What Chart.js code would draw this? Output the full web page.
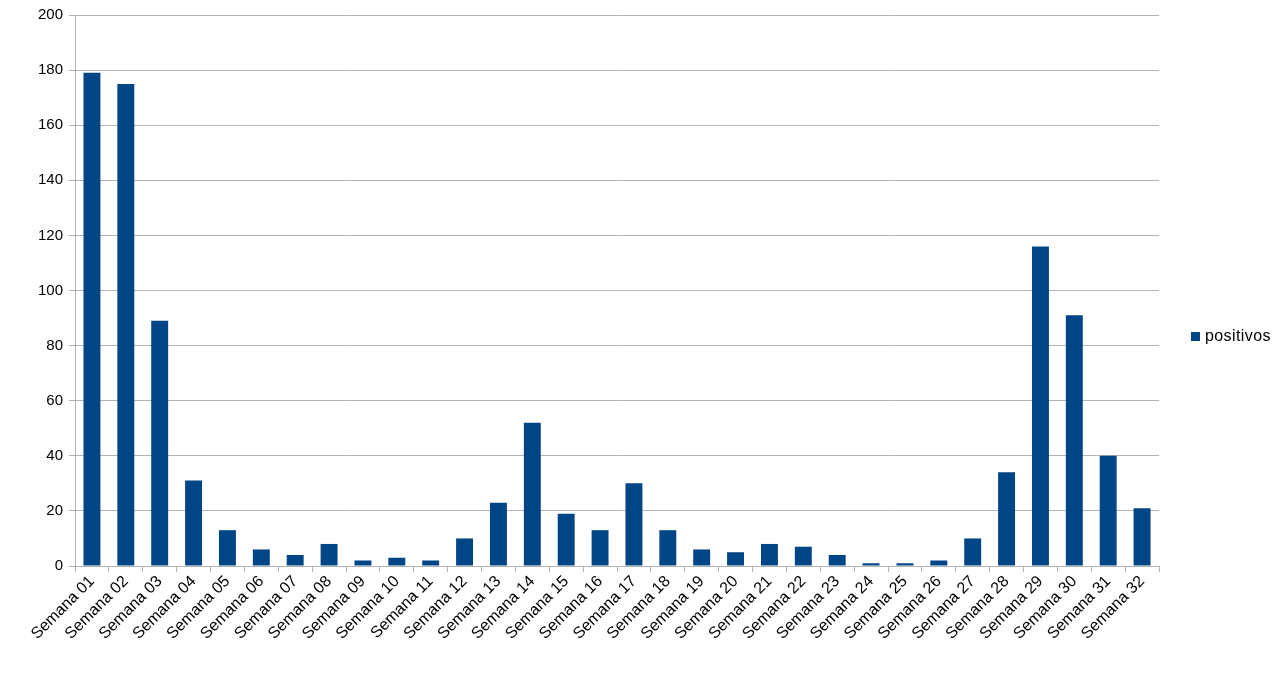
<!DOCTYPE html>
<html>
<head>
<meta charset="utf-8">
<script src="https://cdn.jsdelivr.net/npm/chart.js@4/dist/chart.umd.min.js"></script>
<style>
  html, body { margin: 0; padding: 0; background: #fff; }
  #wrap { position: relative; width: 1288px; height: 673px; }
  #legend { position: absolute; left: 1191px; top: 327px; font: 16px "Liberation Sans", Arial, sans-serif; letter-spacing: 0.4px; color: #000; white-space: nowrap; }
  #legend span.box { display: inline-block; width: 9px; height: 9px; background: #004586; margin-right: 5px; vertical-align: 0px; }
</style>
</head>
<body>
<div id="wrap">
  <canvas id="chart1" width="1288" height="673"></canvas>
  <div id="legend"><span class="box"></span>positivos</div>
</div>
<script>
const barColor = "#004586"
const gridColor = "#b3b3b3"

const weeks = [];
for (let i = 1; i <= 32; i++) weeks.push("Semana " + (i < 10 ? "0" + i : i));

const positivos = [179, 175, 89, 31, 13, 6, 4, 8, 2, 3, 2, 10, 23, 52, 19, 13,
                   30, 13, 6, 5, 8, 7, 4, 1, 1, 2, 10, 34, 116, 91, 40, 21];

const yTicks = [0, 20, 40, 60, 80, 100, 120, 140, 160, 180, 200];

var ctx = document.getElementById('chart1').getContext('2d');
var chart = new Chart(ctx, {
    type: 'bar',
    data: {
        labels: weeks,
        datasets: [{
            label: 'positivos',
            data: positivos,
            backgroundColor: barColor,
            barPercentage: 0.5,
            categoryPercentage: 1.0
        }]
    },
    options: {
        responsive: false,
        animation: false,
        layout: { padding: { left: 0, top: 14, right: 129, bottom: 0 } },
        plugins: {
            legend: { display: false },
            tooltip: { enabled: false }
        },
        scales: {
            x: {
                offset: true,
                grid: { display: true, drawOnChartArea: false, drawTicks: true, tickLength: 6, color: gridColor, offset: true },
                border: { color: gridColor },
                ticks: {
                    color: '#000',
                    font: { family: 'Liberation Sans', size: 16 },
                    minRotation: 45, maxRotation: 45,
                    autoSkip: false,
                    padding: 0
                },
                afterFit: s => { s.height = 673 - 566; }
            },
            y: {
                min: 0, max: 200,
                afterBuildTicks: s => { s.ticks = yTicks.map(v => ({ value: v })); },
                grid: { color: gridColor, tickLength: 6 },
                border: { color: gridColor },
                ticks: {
                    color: '#000',
                    font: { family: 'Liberation Sans', size: 15 },
                    padding: 6
                },
                afterFit: s => { s.width = 75; }
            }
        }
    }
});
</script>
</body>
</html>
